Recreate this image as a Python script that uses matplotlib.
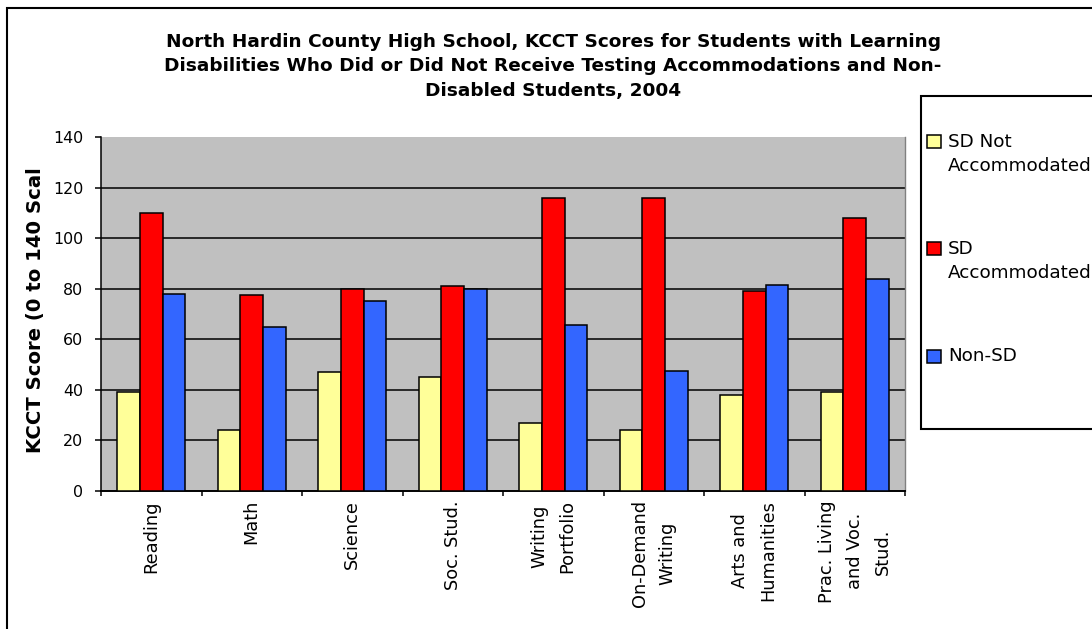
import matplotlib
matplotlib.use("Agg")
import matplotlib.pyplot as plt
from matplotlib.patches import Rectangle
from matplotlib.transforms import Bbox, TransformedBbox
import numpy as np

# ---- data -------------------------------------------------------------
categories = ["Reading", "Math", "Science", "Soc. Stud.", "Writing\nPortfolio",
              "On-Demand\nWriting", "Arts and\nHumanities", "Prac. Living\nand Voc.\nStud."]
series_names = ["SD Not\nAccommodated", "SD\nAccommodated", "Non-SD"]
sd_not_accommodated = [39, 24, 47, 45, 27, 24, 38, 39]
sd_accommodated = [110, 77.5, 80, 81, 116, 116, 79, 108]
non_sd = [78, 65, 75, 80, 65.5, 47.5, 81.5, 84]
y_ticks = [0, 20, 40, 60, 80, 100, 120, 140]
title = ("North Hardin County High School, KCCT Scores for Students with Learning\n"
         "Disabilities Who Did or Did Not Receive Testing Accommodations and Non-\n"
         "Disabled Students, 2004")
y_label = "KCCT Score (0 to 140 Scale)"

colors = ["#FFFF99", "#FF0000", "#3366FF"]

W, H = 1092, 629
fig = plt.figure(figsize=(W / 100, H / 100), dpi=100)
fig.patch.set_facecolor("white")


def fx(px):
    return px / W


def fy(py):
    return 1 - py / H


# plot area
left, right, top, bottom = 101, 905, 137, 491
ax = fig.add_axes([fx(left), fy(bottom), fx(right) - fx(left), fy(top) - fy(bottom)])
ax.set_facecolor("#C0C0C0")

x = np.arange(len(categories))
bw = 0.224
for i, vals in enumerate([sd_not_accommodated, sd_accommodated, non_sd]):
    ax.bar(x + (i - 1) * bw, vals, width=bw, color=colors[i], edgecolor="black",
           linewidth=1.1, zorder=3)

ax.set_xlim(-0.5, len(categories) - 0.5)
ax.set_ylim(0, 140)

# horizontal gridlines (top edge left plain)
for t in y_ticks[1:-1]:
    ax.axhline(t, color="black", linewidth=1.1, zorder=1)

ax.set_yticks(y_ticks)
ax.set_yticklabels([str(t) for t in y_ticks], fontsize=11.4, family="DejaVu Sans")
ax.tick_params(axis="y", direction="out", length=4.3, width=1.1, pad=8.6, colors="black")

ax.set_xticks(np.arange(len(categories) + 1) - 0.5, minor=False)
ax.set_xticklabels([])
ax.tick_params(axis="x", direction="out", length=3.6, width=1.1)
for xi, lab in zip(x, categories):
    ax.annotate(lab, xy=(xi, 0), xycoords=("data", "axes fraction"),
                xytext=(0, -6.5), textcoords="offset points",
                rotation=90, ha="center", va="top", multialignment="center",
                fontsize=12.8, family="DejaVu Sans", linespacing=1.69)

ax.spines["top"].set_visible(False)
ax.spines["right"].set_color("#808080")
ax.spines["right"].set_linewidth(1.0)
ax.spines["left"].set_linewidth(1.1)
ax.spines["bottom"].set_linewidth(1.4)

# outer chart frame
fig.add_artist(Rectangle((fx(7), fy(H + 20)), fx(W + 20) - fx(7), fy(8) - fy(H + 20),
                         transform=fig.transFigure, facecolor="none",
                         edgecolor="black", linewidth=1.5, clip_on=False))

# title
fig.text(fx(553), fy(32.7), title, ha="center", va="top", fontsize=13.3,
         fontweight="bold", family="DejaVu Sans", linespacing=1.47)

# y-axis label, cut at the top edge of its area
yl = fig.text(fx(41), fy(453), y_label, rotation=90, rotation_mode="anchor",
              ha="left", va="baseline", fontsize=14.1, fontweight="bold",
              family="DejaVu Sans")
yl.set_clip_box(TransformedBbox(Bbox([[0, 0], [1, fy(168)]]), fig.transFigure))
yl.set_clip_on(True)

# legend
fig.add_artist(Rectangle((fx(921), fy(429)), fx(W + 20) - fx(921), fy(96) - fy(429),
                         transform=fig.transFigure, facecolor="white",
                         edgecolor="black", linewidth=1.5, clip_on=False))
baselines = [148, 255, 362.7]
for name, col, b in zip(series_names, colors, baselines):
    fig.add_artist(Rectangle((fx(927), fy(b)), fx(941) - fx(927), fy(b - 13) - fy(b),
                             transform=fig.transFigure, facecolor=col,
                             edgecolor="black", linewidth=1.1))
    fig.text(fx(948), fy(b - 15.5), name, ha="left", va="top", fontsize=13.2,
             family="DejaVu Sans", linespacing=1.44)

fig.savefig("out.png", dpi=100)
